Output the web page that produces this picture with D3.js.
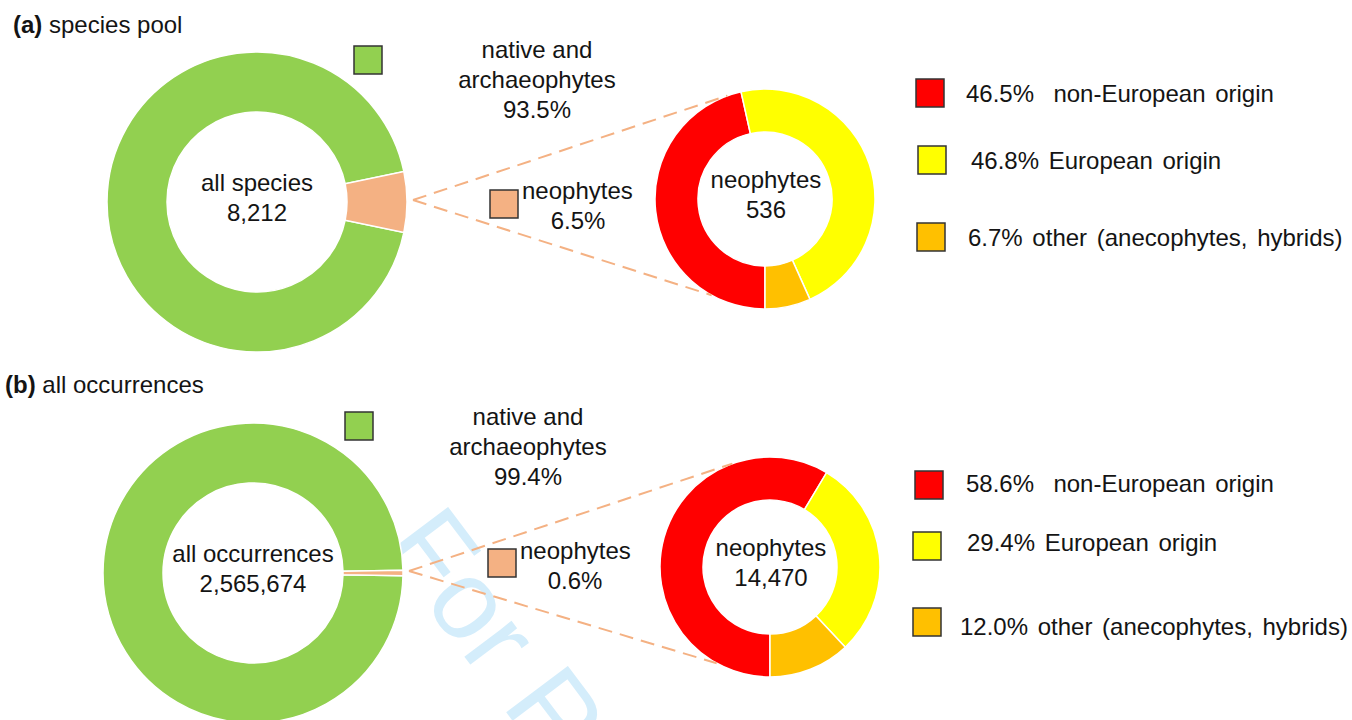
<!DOCTYPE html>
<html>
<head>
<meta charset="utf-8">
<script src="https://cdn.jsdelivr.net/npm/d3@7"></script>
<style>
  body { margin: 0; background: #fff; }
  svg { display: block; font-family: "Liberation Sans", Arial, sans-serif; }
  text { fill: #141414; white-space: pre; }
</style>
</head>
<body>
<svg id="chart" width="1352" height="720"></svg>
<script>
// ---- data ----
var panelTitles = ['(a)', '(b)'];
var panelNames = ['species pool', 'all occurrences'];
var centerLabels = ['all species', 'all occurrences'];
var totals = [8212, 2565674];
var groupNames = ['native and archaeophytes', 'neophytes'];
var groupShares = [[93.5, 6.5], [99.4, 0.6]];
var neoTotals = [536, 14470];
var originNames = [' non-European origin', 'European origin', 'other (anecophytes, hybrids)'];
var originShares = [[46.5, 46.8, 6.7], [58.6, 29.4, 12.0]];

var groupColors = ['#92d050', '#f4b183'];
var originColors = ['#ff0000', '#ffff00', '#ffc000'];

// ---- layout (one per panel) ----
var layout = [
  { titleX: 13, titleY: 33,
    big: { x: 257, y: 202, r0: 90, r1: 150 },
    small: { x: 765, y: 199, r0: 67, r1: 110 },
    greenBox: [354, 46], nativeX: 537, nativeY: 58,
    neoBox: [490, 190], neoTextX: 522, neoTextY: 199, neoPctX: 578,
    legBoxX: [916, 918, 917], legBoxY: [79, 146, 223],
    legTextX: [966, 971, 968], legTextY: [102, 169, 246] },
  { titleX: 5, titleY: 393,
    big: { x: 253, y: 573, r0: 90, r1: 150 },
    small: { x: 770, y: 567, r0: 67, r1: 110 },
    greenBox: [345, 412], nativeX: 528, nativeY: 425,
    neoBox: [488, 549], neoTextX: 520, neoTextY: 559, neoPctX: 575,
    legBoxX: [915, 913, 913], legBoxY: [471, 532, 608],
    legTextX: [966, 967, 960], legTextY: [492, 551, 635] }
];

var fs = 24, lh = 30, box = 28;
var svg = d3.select('#chart');
var pct = function (v) { return d3.format('.1f')(v) + '%'; };
var num = d3.format(',');

// review watermark sits behind everything
svg.append('text')
  .attr('transform', 'translate(381,546) rotate(53)')
  .style('font-size', '112px')
  .style('fill', '#d4edfb')
  .text('For Review Only');

layout.forEach(function (L, i) {
  var g = svg.append('g');

  // title
  var t = g.append('text').attr('x', L.titleX).attr('y', L.titleY).style('font-size', fs + 'px');
  t.append('tspan').style('font-weight', 'bold').text(panelTitles[i]);
  t.append('tspan').text(' ' + panelNames[i]);

  // big donut, neophyte slice centred at 3 o'clock
  var half = Math.PI * groupShares[i][1] / 100;
  var pieBig = d3.pie().sort(null)
    .startAngle(Math.PI / 2 + half)
    .endAngle(Math.PI / 2 + half + 2 * Math.PI);
  var arcBig = d3.arc().innerRadius(L.big.r0).outerRadius(L.big.r1);
  g.append('g').attr('transform', 'translate(' + L.big.x + ',' + L.big.y + ')')
    .selectAll('path').data(pieBig(groupShares[i])).join('path')
    .attr('d', arcBig)
    .attr('fill', function (d, j) { return groupColors[j]; })
    .attr('stroke', '#fff').attr('stroke-width', 1.5);

  g.append('text').attr('x', L.big.x).attr('y', L.big.y - 11)
    .attr('text-anchor', 'middle').style('font-size', fs + 'px').text(centerLabels[i]);
  g.append('text').attr('x', L.big.x).attr('y', L.big.y + 19)
    .attr('text-anchor', 'middle').style('font-size', fs + 'px').text(num(totals[i]));

  // small donut for neophyte origins, starting at 6 o'clock
  var pieSmall = d3.pie().sort(null).startAngle(Math.PI).endAngle(3 * Math.PI);
  var arcSmall = d3.arc().innerRadius(L.small.r0).outerRadius(L.small.r1);
  g.append('g').attr('transform', 'translate(' + L.small.x + ',' + L.small.y + ')')
    .selectAll('path').data(pieSmall(originShares[i])).join('path')
    .attr('d', arcSmall)
    .attr('fill', function (d, j) { return originColors[j]; })
    .attr('stroke', '#fff').attr('stroke-width', 1.5);

  g.append('text').attr('x', L.small.x + 1).attr('y', L.small.y - 11)
    .attr('text-anchor', 'middle').style('font-size', fs + 'px').text(groupNames[1]);
  g.append('text').attr('x', L.small.x + 1).attr('y', L.small.y + 19)
    .attr('text-anchor', 'middle').style('font-size', fs + 'px').text(num(neoTotals[i]));

  // dashed connectors from the neophyte slice to the small donut
  var sx = L.big.x + L.big.r1 + 6, sy = L.big.y - 2;
  [-20, 209].forEach(function (deg) {
    var a = deg * Math.PI / 180;
    g.append('line')
      .attr('x1', sx).attr('y1', sy)
      .attr('x2', L.small.x + L.small.r1 * Math.sin(a))
      .attr('y2', L.small.y - L.small.r1 * Math.cos(a))
      .attr('stroke', groupColors[1]).attr('stroke-width', 2)
      .attr('stroke-dasharray', '14,8');
  });

  // group keys
  g.append('rect').attr('x', L.greenBox[0]).attr('y', L.greenBox[1])
    .attr('width', box).attr('height', box)
    .attr('fill', groupColors[0]).attr('stroke', '#333').attr('stroke-width', 1.5);
  var words = groupNames[0].split(' ');
  [words.slice(0, 2).join(' '), words[2], pct(groupShares[i][0])].forEach(function (s, k) {
    g.append('text').attr('x', L.nativeX).attr('y', L.nativeY + k * lh)
      .attr('text-anchor', 'middle').style('font-size', fs + 'px').text(s);
  });

  g.append('rect').attr('x', L.neoBox[0]).attr('y', L.neoBox[1])
    .attr('width', box).attr('height', box)
    .attr('fill', groupColors[1]).attr('stroke', '#333').attr('stroke-width', 1.5);
  g.append('text').attr('x', L.neoTextX).attr('y', L.neoTextY)
    .style('font-size', fs + 'px').text(groupNames[1]);
  g.append('text').attr('x', L.neoPctX).attr('y', L.neoTextY + lh)
    .attr('text-anchor', 'middle').style('font-size', fs + 'px').text(pct(groupShares[i][1]));

  // origin legend
  originNames.forEach(function (name, k) {
    g.append('rect').attr('x', L.legBoxX[k]).attr('y', L.legBoxY[k])
      .attr('width', box).attr('height', box)
      .attr('fill', originColors[k]).attr('stroke', '#333').attr('stroke-width', 1.5);
    g.append('text').attr('x', L.legTextX[k]).attr('y', L.legTextY[k])
      .style('font-size', fs + 'px').style('word-spacing', '3px')
      .text(pct(originShares[i][k]) + ' ' + name);
  });
});
</script>
</body>
</html>
